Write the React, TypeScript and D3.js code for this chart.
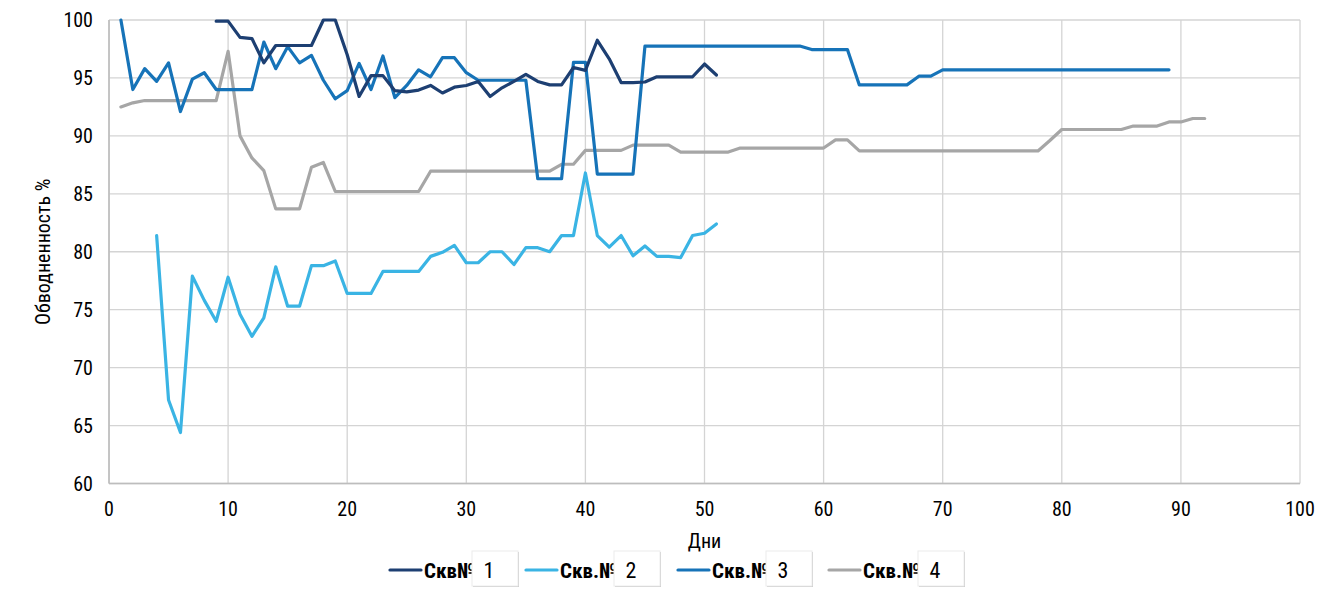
import * as d3 from 'd3';
import React, { useEffect, useRef } from 'react';

// дни начала каждой серии и значения по дням
const start1 = 9;
const well1 = [99.9, 99.9, 98.5, 98.4, 96.3, 97.8, 97.8, 97.8, 97.8, 100,
    100, 97.0, 93.4, 95.2, 95.2, 93.9, 93.8, 93.95, 94.35, 93.7,
    94.2, 94.35, 94.7, 93.4, 94.15, 94.7, 95.3, 94.7, 94.4, 94.4,
    95.9, 95.65, 98.25, 96.65, 94.6, 94.6, 94.65, 95.1, 95.1, 95.1,
    95.1, 96.2, 95.25];

const start2 = 4;
const well2 = [81.4, 67.2, 64.4, 77.9, 75.8, 74.0, 77.8, 74.6, 72.7, 74.3,
    78.7, 75.3, 75.3, 78.8, 78.8, 79.2, 76.4, 76.4, 76.4, 78.3,
    78.3, 78.3, 78.3, 79.6, 79.95, 80.55, 79.05, 79.05, 80.0, 80.0,
    78.9, 80.35, 80.35, 80.0, 81.4, 81.4, 86.8, 81.4, 80.4, 81.4,
    79.65, 80.5, 79.6, 79.6, 79.5, 81.4, 81.6, 82.4];

const start3 = 1;
const well3 = [100, 94.0, 95.8, 94.7, 96.3, 92.1, 94.9, 95.45, 94.0, 94.0,
    94.0, 94.0, 98.1, 95.8, 97.7, 96.3, 96.95, 94.8, 93.2, 93.9,
    96.25, 94.0, 96.9, 93.3, 94.35, 95.7, 95.1, 96.75, 96.75, 95.45,
    94.8, 94.8, 94.8, 94.8, 94.8, 86.3, 86.3, 86.3, 96.35, 96.35,
    86.7, 86.7, 86.7, 86.7, 97.75, 97.75, 97.75, 97.75, 97.75, 97.75,
    97.75, 97.75, 97.75, 97.75, 97.75, 97.75, 97.75, 97.75, 97.45, 97.45,
    97.45, 97.45, 94.4, 94.4, 94.4, 94.4, 94.4, 95.15, 95.15, 95.7,
    95.7, 95.7, 95.7, 95.7, 95.7, 95.7, 95.7, 95.7, 95.7, 95.7,
    95.7, 95.7, 95.7, 95.7, 95.7, 95.7, 95.7, 95.7, 95.7];

const start4 = 1;
const well4 = [92.5, 92.85, 93.05, 93.05, 93.05, 93.05, 93.05, 93.05, 93.05, 97.3,
    90.0, 88.1, 87.0, 83.7, 83.7, 83.7, 87.3, 87.7, 85.2, 85.2,
    85.2, 85.2, 85.2, 85.2, 85.2, 85.2, 86.95, 86.95, 86.95, 86.95,
    86.95, 86.95, 86.95, 86.95, 86.95, 86.95, 86.95, 87.55, 87.55, 88.75,
    88.75, 88.75, 88.75, 89.2, 89.2, 89.2, 89.2, 88.6, 88.6, 88.6,
    88.6, 88.6, 88.95, 88.95, 88.95, 88.95, 88.95, 88.95, 88.95, 88.95,
    89.65, 89.65, 88.7, 88.7, 88.7, 88.7, 88.7, 88.7, 88.7, 88.7,
    88.7, 88.7, 88.7, 88.7, 88.7, 88.7, 88.7, 88.7, 89.6, 90.55,
    90.55, 90.55, 90.55, 90.55, 90.55, 90.85, 90.85, 90.85, 91.2, 91.2,
    91.5, 91.5];

const seriesNames = ['Скв№', 'Скв.№', 'Скв.№', 'Скв.№'];
const seriesNums = ['1', '2', '3', '4'];
const colors = ['#1d3f72', '#3ab4e4', '#1673b8', '#a6a6a6'];
const xTicks = [0, 10, 20, 30, 40, 50, 60, 70, 80, 90, 100];
const yTicks = [60, 65, 70, 75, 80, 85, 90, 95, 100];

const FONT = "'Roboto Condensed', 'Liberation Sans Narrow', 'Arial Narrow', sans-serif";

export default () => {
    const ref = useRef<any>();

    useEffect(() => {
        const svg = d3.select<any, any>(ref.current);
        svg.selectAll('*').remove();

        const x = d3.scaleLinear().domain([0, 100]).range([109, 1300]);
        const y = d3.scaleLinear().domain([60, 100]).range([483.5, 20]);

        const grid = svg.append('g');
        grid.selectAll('.hg').data(yTicks).join('line')
            .attr('x1', x(0)).attr('x2', x(100))
            .attr('y1', d => y(d)).attr('y2', d => y(d))
            .attr('stroke', '#d4d4d4').attr('stroke-width', 1.3);
        grid.selectAll('.vg').data(xTicks).join('line')
            .attr('x1', d => x(d)).attr('x2', d => x(d))
            .attr('y1', y(60)).attr('y2', y(100))
            .attr('stroke', '#d4d4d4').attr('stroke-width', 1.3);
        // оси
        grid.append('line').attr('x1', x(0)).attr('x2', x(0)).attr('y1', y(60)).attr('y2', y(100))
            .attr('stroke', '#bdbdbd').attr('stroke-width', 1.6);
        grid.append('line').attr('x1', x(0)).attr('x2', x(100)).attr('y1', y(60)).attr('y2', y(60))
            .attr('stroke', '#bdbdbd').attr('stroke-width', 1.6);

        const labels = svg.append('g').attr('font-family', FONT).attr('font-size', 20).attr('fill', '#000');
        labels.selectAll('.yt').data(yTicks).join('text')
            .attr('x', 93).attr('y', d => y(d)).attr('dy', '0.36em')
            .attr('text-anchor', 'end').text(d => d);
        labels.selectAll('.xt').data(xTicks).join('text')
            .attr('x', d => x(d)).attr('y', 516)
            .attr('text-anchor', 'middle').text(d => d);
        labels.append('text')
            .attr('transform', `translate(50, ${(y(60) + y(100)) / 2}) rotate(-90)`)
            .attr('text-anchor', 'middle').text('Обводненность %');
        labels.append('text')
            .attr('x', (x(0) + x(100)) / 2).attr('y', 548)
            .attr('text-anchor', 'middle').text('Дни');

        const all = [
            { start: start1, values: well1 },
            { start: start2, values: well2 },
            { start: start3, values: well3 },
            { start: start4, values: well4 },
        ];

        // порядок отрисовки: серые снизу
        [3, 1, 2, 0].forEach(k => {
            const s = all[k];
            const pts = s.values.map((v, i) => [x(s.start + i), y(v)] as [number, number]);
            svg.append('path')
                .attr('d', d3.line()(pts))
                .attr('fill', 'none')
                .attr('stroke', colors[k])
                .attr('stroke-width', 3.2)
                .attr('stroke-linejoin', 'round')
                .attr('stroke-linecap', 'round');
        });

        // легенда
        const legX = [390, 526, 678, 829];
        const boxX = [472, 614, 766, 918];
        const legY = 570;
        const leg = svg.append('g').attr('font-family', FONT);
        seriesNames.forEach((name, i) => {
            leg.append('line')
                .attr('x1', legX[i]).attr('x2', legX[i] + 31)
                .attr('y1', legY).attr('y2', legY)
                .attr('stroke', colors[i]).attr('stroke-width', 3.2)
                .attr('stroke-linecap', 'round');
            leg.append('text')
                .attr('x', legX[i] + 34).attr('y', legY).attr('dy', '0.36em')
                .attr('font-size', 21)
                .attr('font-weight', 'bold')
                .text(name);
            leg.append('rect')
                .attr('x', boxX[i] + 1).attr('y', 552)
                .attr('width', 46).attr('height', 35)
                .attr('fill', '#c9c9c9');
            leg.append('rect')
                .attr('x', boxX[i]).attr('y', 551)
                .attr('width', 46).attr('height', 35)
                .attr('fill', '#fff').attr('stroke', '#ececec').attr('stroke-width', 1);
            leg.append('text')
                .attr('x', boxX[i] + 17).attr('y', legY).attr('dy', '0.36em')
                .attr('font-size', 22)
                .attr('text-anchor', 'middle')
                .text(seriesNums[i]);
        });
    });

    return (
        <div style={{ position: 'fixed', left: 0, top: 0 }}>
            <svg ref={ref} width={1343} height={595} style={{ display: 'block', background: '#fff' }} />
        </div>
    );
};
